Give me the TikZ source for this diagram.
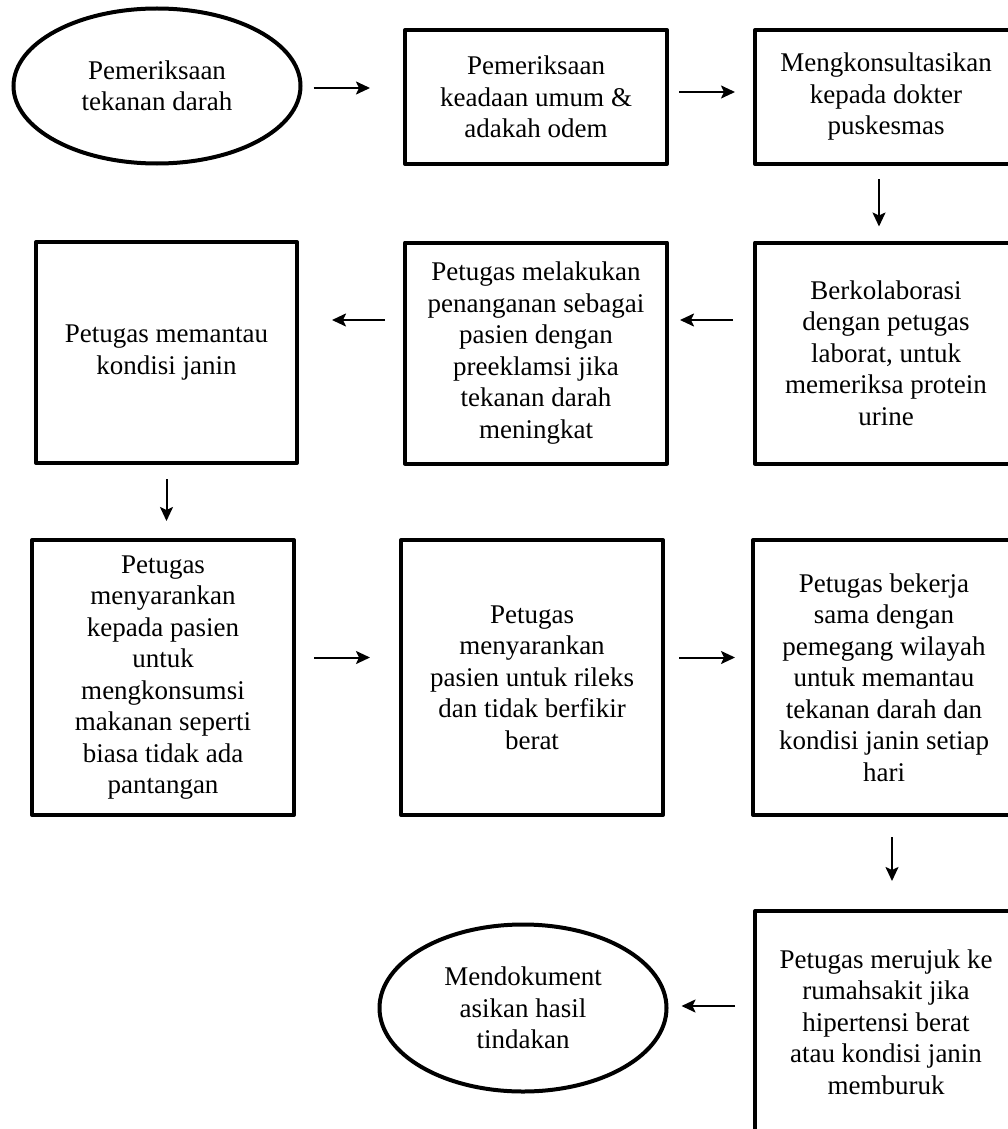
\documentclass[tikz,border=0pt]{standalone}
\usepackage{fontspec}
\setmainfont{Liberation Serif}
\usepackage{tikz}
\usetikzlibrary{shapes,arrows,arrows.meta}
\usetikzlibrary{calc}
\usetikzlibrary{positioning}

\begin{document}
\begin{tikzpicture}[x=1pt, y=-1pt,
	box_node/.style={rectangle,draw,line width=4pt,line join=round,minimum width=262pt,inner sep=0pt,align=center,font=\fontsize{27pt}{31.5pt}\selectfont},
	oval_node/.style={ellipse,draw,line width=4pt,minimum width=287pt,inner sep=0pt,align=center,font=\fontsize{27pt}{31.5pt}\selectfont},
	flow/.style={line width=2pt,-{Stealth[length=14pt,width=13pt,inset=3pt]}}]
				
				\useasboundingbox (0,0) rectangle (1008,1129);
				
				% baris 1
				\node[oval_node, minimum height=155pt] (e1) at (157, 86) {Pemeriksaan\\tekanan darah};
				\node[box_node, minimum height=134pt] (b2) at (536, 97) {Pemeriksaan\\keadaan umum \&\\adakah odem};
				\node[box_node, minimum height=134pt] (b3) at (886, 97) {Mengkonsultasikan\\kepada dokter\\puskesmas};
				
				% baris 2
				\node[box_node, minimum height=221pt, minimum width=261pt] (c1) at (166.5, 352.5) {Petugas memantau\\kondisi janin};
				\node[box_node, minimum height=221pt] (c2) at (536, 353) {Petugas melakukan\\penanganan sebagai\\pasien dengan\\preeklamsi jika\\tekanan darah\\meningkat};
				\node[box_node, minimum height=221pt] (c3) at (886, 353) {Berkolaborasi\\dengan petugas\\laborat, untuk\\memeriksa protein\\urine};
				
				% baris 3
				\node[box_node, minimum height=275pt] (d1) at (163, 677.5) {Petugas\\menyarankan\\kepada pasien\\untuk\\mengkonsumsi\\makanan seperti\\biasa tidak ada\\pantangan};
				\node[box_node, minimum height=275pt] (d2) at (532, 677.5) {Petugas\\menyarankan\\pasien untuk rileks\\dan tidak berfikir\\berat};
				\node[box_node, minimum height=275pt] (d3) at (884, 677.5) {Petugas bekerja\\sama dengan\\pemegang wilayah\\untuk memantau\\tekanan darah dan\\kondisi janin setiap\\hari};
				
				% baris 4
				\node[box_node, minimum height=222pt] (e3) at (886, 1022) {Petugas merujuk ke\\rumahsakit jika\\hipertensi berat\\atau kondisi janin\\memburuk};
				\node[oval_node, minimum height=167pt] (e2) at (523, 1008) {Mendokument\\asikan hasil\\tindakan};
				
				% panah
				\draw[flow, shorten <=11pt, shorten >=33pt] ([yshift=-2pt]e1.east) -- ([yshift=-2pt]e1.east -| b2.west);
				\draw[flow, shorten <=10pt, shorten >=18pt] ([yshift=5pt]b2.east) -- ([yshift=5pt]b2.east -| b3.west);
				\draw[flow, shorten <=13pt, shorten >=14pt] ([xshift=-7pt]b3.south) -- ([xshift=-7pt]b3.south |- c3.north);
				\draw[flow, shorten <=20pt, shorten >=11pt] ([yshift=33pt]c3.west) -- ([yshift=33pt]c3.west -| c2.east);
				\draw[flow, shorten <=18pt, shorten >=33pt] ([yshift=33pt]c2.west) -- ([yshift=33pt]c2.west -| c1.east);
				\draw[flow, shorten <=14pt, shorten >=17pt] (c1.south) -- (c1.south |- d1.north);
				\draw[flow, shorten <=18pt, shorten >=29pt] ([yshift=20pt]d1.east) -- ([yshift=20pt]d1.east -| d2.west);
				\draw[flow, shorten <=14pt, shorten >=16pt] ([yshift=20pt]d2.east) -- ([yshift=20pt]d2.east -| d3.west);
				\draw[flow, shorten <=20pt, shorten >=28pt] ([xshift=8pt]d3.south) -- ([xshift=8pt]d3.south |- e3.north);
				\draw[flow, shorten <=18pt, shorten >=13pt] ([yshift=16pt]e3.west) -- ([yshift=16pt]e3.west -| e2.east);
			\end{tikzpicture}
\end{document}
